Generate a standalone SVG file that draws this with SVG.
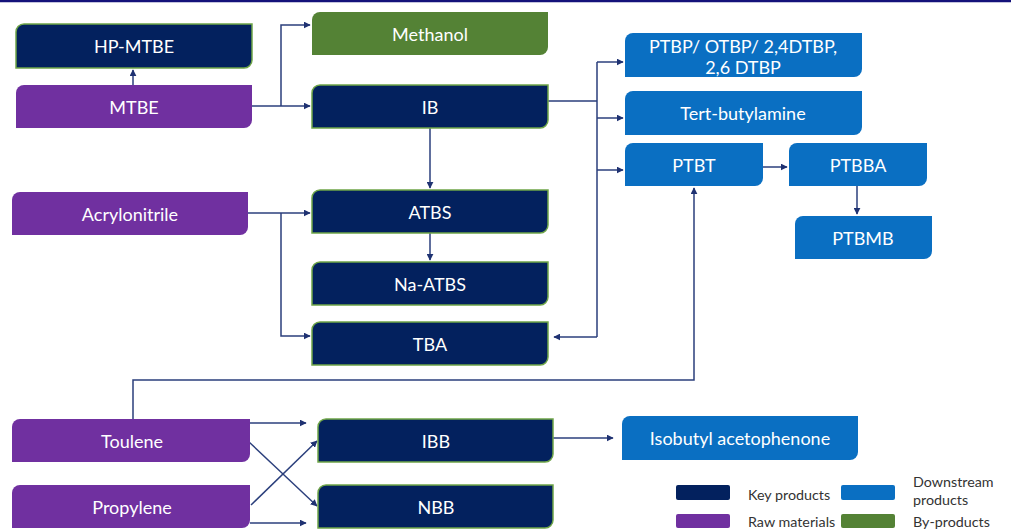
<svg xmlns="http://www.w3.org/2000/svg" width="1011" height="532" viewBox="0 0 1011 532">
<defs>
<style>
.key{fill:#03215e;stroke:#6fa548;stroke-width:1.5}
.raw{fill:#7030a0}
.by{fill:#548235}
.down{fill:#0a6fc2}
.t{font-family:Lato,"Open Sans","Liberation Sans",sans-serif;font-size:18px;fill:#ffffff;text-anchor:middle;dominant-baseline:central}
.lg{font-family:Lato,"Open Sans","Liberation Sans",sans-serif;font-size:14.3px;fill:#333333;dominant-baseline:central}
.c{fill:none;stroke:#2b3f7c;stroke-width:1.5}
.a{marker-end:url(#ah)}
</style>
<marker id="ah" viewBox="0 0 10 10" refX="9" refY="5" markerWidth="7" markerHeight="7" markerUnits="userSpaceOnUse" orient="auto">
<path d="M0,0 L10,5 L0,10 Z" fill="#1f3272"/>
</marker>
</defs>
<rect x="0" y="0" width="1011" height="532" fill="#ffffff"/>
<line x1="0" y1="1" x2="1011" y2="1" stroke="#14127a" stroke-width="2.5"/>

<g id="connectors">
<path class="c a" d="M133,85 V70"/>
<path class="c a" d="M252,106 H310"/>
<path class="c a" d="M281,106 V25 H310"/>
<path class="c a" d="M430,128 V188"/>
<path class="c a" d="M430,233 V260"/>
<path class="c" d="M548,101 H597 M597,62 V337"/>
<path class="c a" d="M597,62 H623"/>
<path class="c a" d="M597,118 H623"/>
<path class="c a" d="M597,170 H623"/>
<path class="c a" d="M597,337 H554"/>
<path class="c a" d="M248,213 H310"/>
<path class="c a" d="M281,213 V336 H310"/>
<path class="c a" d="M763,167 H787"/>
<path class="c a" d="M857,186 V214"/>
<path class="c a" d="M133,419 V380 H694 V188"/>
<path class="c a" d="M250,423 H306"/>
<path class="c a" d="M250,523 H306"/>
<path class="c a" d="M249,442 L317,506"/>
<path class="c a" d="M251,505 L317,441"/>
<path class="c a" d="M553,438 H613"/>
</g>

<g id="hp-mtbe"><path class="key" d="M24,24 H252 V60 A8,8 0 0 1 244,68 H16 V32 A8,8 0 0 1 24,24 Z"/><text class="t" x="134" y="46">HP-MTBE</text></g>
<g id="mtbe"><path class="raw" d="M24,85 H252 V120 A8,8 0 0 1 244,128 H16 V93 A8,8 0 0 1 24,85 Z"/><text class="t" x="134" y="106.5">MTBE</text></g>
<g id="methanol"><path class="by" d="M320,12 H548 V47 A8,8 0 0 1 540,55 H312 V20 A8,8 0 0 1 320,12 Z"/><text class="t" x="430" y="33.5">Methanol</text></g>
<g id="ib"><path class="key" d="M320,85 H548 V120 A8,8 0 0 1 540,128 H312 V93 A8,8 0 0 1 320,85 Z"/><text class="t" x="430" y="106.5">IB</text></g>
<g id="acrylonitrile"><path class="raw" d="M20,192 H248 V227 A8,8 0 0 1 240,235 H12 V200 A8,8 0 0 1 20,192 Z"/><text class="t" x="130" y="213.5">Acrylonitrile</text></g>
<g id="atbs"><path class="key" d="M320,190 H548 V225 A8,8 0 0 1 540,233 H312 V198 A8,8 0 0 1 320,190 Z"/><text class="t" x="430" y="211.5">ATBS</text></g>
<g id="na-atbs"><path class="key" d="M320,262 H548 V297 A8,8 0 0 1 540,305 H312 V270 A8,8 0 0 1 320,262 Z"/><text class="t" x="430" y="283.5">Na-ATBS</text></g>
<g id="tba"><path class="key" d="M320,322 H548 V357 A8,8 0 0 1 540,365 H312 V330 A8,8 0 0 1 320,322 Z"/><text class="t" x="430" y="343.5">TBA</text></g>
<g id="ptbp"><path class="down" d="M633,33 H862 V69 A8,8 0 0 1 854,77 H625 V41 A8,8 0 0 1 633,33 Z"/><text class="t" x="743" y="46">PTBP/ OTBP/ 2,4DTBP,</text><text class="t" x="743" y="67">2,6 DTBP</text></g>
<g id="tert-butylamine"><path class="down" d="M633,91 H862 V127 A8,8 0 0 1 854,135 H625 V99 A8,8 0 0 1 633,91 Z"/><text class="t" x="743" y="113">Tert-butylamine</text></g>
<g id="ptbt"><path class="down" d="M633,143 H763 V178 A8,8 0 0 1 755,186 H625 V151 A8,8 0 0 1 633,143 Z"/><text class="t" x="694" y="164.5">PTBT</text></g>
<g id="ptbba"><path class="down" d="M797,143 H927 V178 A8,8 0 0 1 919,186 H789 V151 A8,8 0 0 1 797,143 Z"/><text class="t" x="858" y="164.5">PTBBA</text></g>
<g id="ptbmb"><path class="down" d="M803,216 H932 V251 A8,8 0 0 1 924,259 H795 V224 A8,8 0 0 1 803,216 Z"/><text class="t" x="863" y="237.5">PTBMB</text></g>
<g id="toulene"><path class="raw" d="M20,419 H250 V454 A8,8 0 0 1 242,462 H12 V427 A8,8 0 0 1 20,419 Z"/><text class="t" x="132" y="440.5">Toulene</text></g>
<g id="propylene"><path class="raw" d="M20,485 H250 V520 A8,8 0 0 1 242,528 H12 V493 A8,8 0 0 1 20,485 Z"/><text class="t" x="132" y="506.5">Propylene</text></g>
<g id="ibb"><path class="key" d="M326,419 H553 V454 A8,8 0 0 1 545,462 H318 V427 A8,8 0 0 1 326,419 Z"/><text class="t" x="436" y="440.5">IBB</text></g>
<g id="nbb"><path class="key" d="M326,485 H553 V520 A8,8 0 0 1 545,528 H318 V493 A8,8 0 0 1 326,485 Z"/><text class="t" x="436" y="506.5">NBB</text></g>
<g id="isobutyl-acetophenone"><path class="down" d="M630,416 H858 V452 A8,8 0 0 1 850,460 H622 V424 A8,8 0 0 1 630,416 Z"/><text class="t" x="740" y="438">Isobutyl acetophenone</text></g>

<g id="legend">
<rect x="676" y="485" width="54" height="15" rx="2" fill="#03215e"/>
<text class="lg" x="748" y="494">Key products</text>
<rect x="841" y="485" width="54" height="15" rx="2" fill="#0a6fc2"/>
<text class="lg" x="913" y="481">Downstream</text>
<text class="lg" x="913" y="499">products</text>
<rect x="676" y="514" width="54" height="14" rx="2" fill="#7030a0"/>
<text class="lg" x="748" y="521.5">Raw materials</text>
<rect x="841" y="514" width="54" height="14" rx="2" fill="#548235"/>
<text class="lg" x="913" y="521.5">By-products</text>
</g>
</svg>
